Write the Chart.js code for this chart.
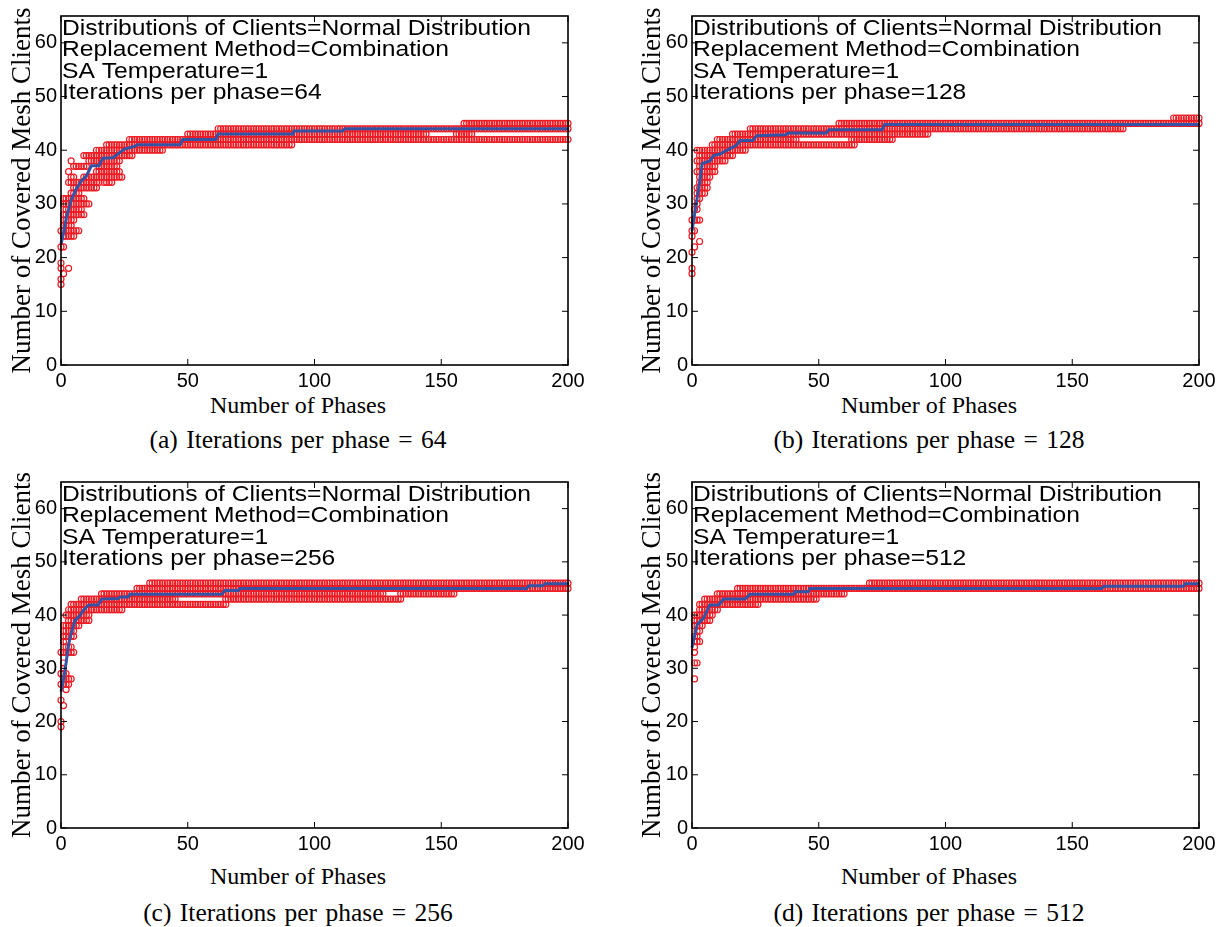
<!DOCTYPE html>
<html lang="en">
<head>
  <meta charset="UTF-8" />
  <title>Covered mesh clients vs phases</title>
  <script src="https://cdn.jsdelivr.net/npm/chart.js"></script>
  <style>
    body { margin: 0; background: #fff; width: 1224px; height: 927px; position: relative; overflow: hidden; }
    .panel { position: absolute; }
    .lbl { position: absolute; width: 400px; text-align: center; white-space: nowrap;
           font-family: "Liberation Serif", "Times New Roman", serif; color: #000; line-height: 1; }
    .xt { font-size: 24px; }
    .cap { font-size: 25.5px; word-spacing: 2px; }
  </style>
</head>
<body>
  <div class="panel" style="left:0;top:0"><canvas id="ca" width="600" height="392"></canvas></div>
  <div class="panel" style="left:630px;top:0"><canvas id="cb" width="594" height="392"></canvas></div>
  <div class="panel" style="left:0;top:466px"><canvas id="cc" width="600" height="392"></canvas></div>
  <div class="panel" style="left:630px;top:466px"><canvas id="cd" width="594" height="392"></canvas></div>

  <div class="lbl xt" style="left:98px;top:393px">Number of Phases</div>
  <div class="lbl cap" style="left:98px;top:427px">(a) Iterations per phase = 64</div>
  <div class="lbl xt" style="left:729px;top:393px">Number of Phases</div>
  <div class="lbl cap" style="left:729px;top:427px">(b) Iterations per phase = 128</div>
  <div class="lbl xt" style="left:98px;top:864px">Number of Phases</div>
  <div class="lbl cap" style="left:98px;top:900px">(c) Iterations per phase = 256</div>
  <div class="lbl xt" style="left:729px;top:864px">Number of Phases</div>
  <div class="lbl cap" style="left:729px;top:900px">(d) Iterations per phase = 512</div>

  <script>
    const xTicks = [0, 50, 100, 150, 200];
    const yTicks = [0, 10, 20, 30, 40, 50, 60];

    // runs: [covered clients, first phase, last phase] -> one circle per phase
    const bandsA = [
      [45,159,200],[44,62,200],[43,50,144],[43,156,162],[42,27,200],[41,18,91],[40,14,40],
      [39,9,28],[38,4,4],[38,11,23],[37,5,10],[37,15,22],[36,3,3],[36,14,23],[35,4,5],[35,9,24],
      [34,3,15],[34,17,20],[33,5,11],[33,12,14],[32,4,7],[31,1,9],[30,1,11],[29,2,8],[28,1,9],
      [27,1,5],[26,1,4],[25,0,7],[24,1,5],[22,0,1],[19,0,0],[18,0,0],[18,3,3],[17,1,1],[16,0,0],[15,0,0]
    ];
    const meanA = [
      [0,22.5],[1,24.5],[2,27.2],[4,30.7],[6,32.8],[8,34.3],[10,35.2],[12,37.1],[15,37.1],[16.5,38.5],
      [20.5,38.6],[23,39.5],[25,40.2],[29,40.7],[30,41],[47,41],[48,42],[61,42],[62,43],[91.5,43],
      [92,43.6],[111,43.6],[112,44],[200,44]
    ];

    const bandsB = [
      [46,190,200],[45,58,200],[44,23,170],[43,16,93],[42,10,41],[42,63,79],[41,8,64],[40,2,21],
      [39,3,16],[38,2,13],[37,3,9],[36,2,9],[35,3,7],[34,3,6],[33,2,6],[32,2,5],[31,2,3],[30,2,2],
      [29,1,2],[27,0,3],[25,0,1],[24,0,0],[23,3,3],[22,1,1],[21,0,0],[18,0,0],[17,0,0]
    ];
    const meanB = [
      [0,25],[1,28],[2,31],[3,34],[4,37.5],[7,38],[8.5,39],[11,39.3],[15,40.3],[17.5,40.9],[19,41.8],
      [24,41.8],[25.5,42.7],[37,42.9],[38,43.2],[53,43.2],[54,43.8],[75,43.8],[76,44.8],[200,44.8]
    ];

    const bandsC = [
      [46,35,200],[45,30,200],[44,16,127],[44,134,155],[43,8,45],[43,65,134],[42,4,65],[41,3,24],
      [40,2,11],[39,3,11],[38,1,7],[37,1,5],[36,1,5],[35,1,2],[34,2,4],[33,0,5],[31,1,1],[30,1,1],
      [29,0,2],[28,1,4],[27,0,3],[26,2,2],[24,0,0],[23,1,1],[20,0,0],[19,0,0]
    ];
    const meanC = [
      [0,25.6],[1,28],[2,31],[3,34.5],[4,36.5],[5.5,39],[7.5,39.9],[9,41],[11,41.9],[14.7,41.9],
      [16,43],[22.6,43.1],[23.3,43.4],[26.5,43.4],[27.2,43.9],[63.4,43.9],[64.7,44.6],[70,44.6],
      [70.6,45],[183.7,45],[184.5,45.5],[190,45.5],[191,45.9],[200,45.9]
    ];

    const bandsD = [
      [46,70,200],[45,18,200],[44,10,60],[43,5,49],[42,3,26],[41,3,10],[40,1,8],[39,1,7],
      [38,1,4],[37,2,3],[36,1,2],[35,1,3],[34,1,1],[33,1,1],[31,1,2],[28,1,1]
    ];
    const meanD = [
      [0,33.9],[1,36],[2,38.2],[4.5,39.4],[7,41.9],[10.5,41.9],[12.4,43],[20.9,43],[22.9,43.9],
      [40,43.9],[40.6,44.4],[45.9,44.4],[46.5,45],[161.6,45],[162.5,45.4],[193.8,45.4],[194.5,45.9],[200,45.9]
    ];

    const noteBase = ["Distributions of Clients=Normal Distribution", "Replacement Method=Combination", "SA Temperature=1"];
    const iterations = ["64", "128", "256", "512"];

    function bandPoints(bands) {
      const pts = [];
      bands.forEach(([yv, x0, x1]) => {
        for (let xv = x0; xv <= x1; xv++) pts.push({ x: xv, y: yv });
      });
      return pts;
    }

    const framePlugin = {
      id: 'frame',
      afterDraw(chart, args, opts) {
        const { ctx, chartArea: a, scales: { x, y } } = chart;
        ctx.save();
        ctx.strokeStyle = '#000';
        ctx.lineWidth = 1;
        ctx.beginPath();
        xTicks.forEach(v => {
          const px = x.getPixelForValue(v);
          ctx.moveTo(px, a.bottom); ctx.lineTo(px, a.bottom - 6);
          ctx.moveTo(px, a.top); ctx.lineTo(px, a.top + 6);
        });
        yTicks.forEach(v => {
          const py = y.getPixelForValue(v);
          ctx.moveTo(a.left, py); ctx.lineTo(a.left + 6, py);
          ctx.moveTo(a.right, py); ctx.lineTo(a.right - 6, py);
        });
        ctx.stroke();
        ctx.lineWidth = 1.6;
        ctx.strokeRect(a.left, a.top, a.right - a.left, a.bottom - a.top);
        // the annotation text in the original is a bit wider than Arial at its height
        ctx.fillStyle = '#000';
        ctx.font = '22px "Liberation Sans", Arial, sans-serif';
        ctx.textBaseline = 'alphabetic';
        ctx.translate(a.left + 1, a.top + 19);
        ctx.scale(1.12, 1);
        opts.lines.forEach((t, i) => ctx.fillText(t, 0, i * 21.4));
        ctx.restore();
      }
    };

    function makeChart(id, bands, mean, iter, yWidth, padTop, padRight, xHeight) {
      const lines = noteBase.concat(["Iterations per phase=" + iter]);
      new Chart(document.getElementById(id), {
        type: 'scatter',
        data: {
          datasets: [
            {
              data: mean.map(([xv, yv]) => ({ x: xv, y: yv })),
              showLine: true,
              borderColor: '#3453a5',
              borderWidth: 3,
              pointRadius: 0,
              clip: false,
              order: 1
            },
            {
              data: bandPoints(bands),
              pointStyle: 'circle',
              pointRadius: 3,
              pointBorderWidth: 1.2,
              borderColor: '#ec1c24',
              backgroundColor: 'rgba(0,0,0,0)',
              clip: false,
              order: 2
            }
          ]
        },
        options: {
          responsive: false,
          animation: false,
          layout: { padding: { top: padTop, right: padRight, left: 0, bottom: 0 } },
          plugins: { legend: { display: false }, tooltip: { enabled: false }, frame: { lines } },
          scales: {
            x: {
              type: 'linear', min: 0, max: 200,
              afterBuildTicks: s => { s.ticks = xTicks.map(v => ({ value: v })); },
              afterFit: s => { s.height = xHeight; },
              grid: { display: false, drawTicks: false },
              border: { display: false },
              ticks: { color: '#000', padding: 4, maxRotation: 0, font: { family: '"Liberation Sans", Arial, sans-serif', size: 20 } }
            },
            y: {
              type: 'linear', min: 0, max: 65,
              afterBuildTicks: s => { s.ticks = yTicks.map(v => ({ value: v })); },
              afterFit: s => { s.width = yWidth; },
              grid: { display: false, drawTicks: false },
              border: { display: false },
              ticks: { color: '#000', padding: 4, font: { family: '"Liberation Sans", Arial, sans-serif', size: 20 } },
              title: {
                display: true, text: 'Number of Covered Mesh Clients', color: '#000',
                padding: { top: 7, bottom: 0 },
                font: { family: '"Liberation Serif", "Times New Roman", serif', size: 27, lineHeight: 1.2 }
              }
            }
          }
        },
        plugins: [framePlugin]
      });
    }

    makeChart('ca', bandsA, meanA, iterations[0], 61, 10.6, 32, 27);
    makeChart('cb', bandsB, meanB, iterations[1], 62, 10.6, 25, 27);
    makeChart('cc', bandsC, meanC, iterations[2], 61, 11, 32, 30);
    makeChart('cd', bandsD, meanD, iterations[3], 62, 11, 25, 30);
  </script>
</body>
</html>
